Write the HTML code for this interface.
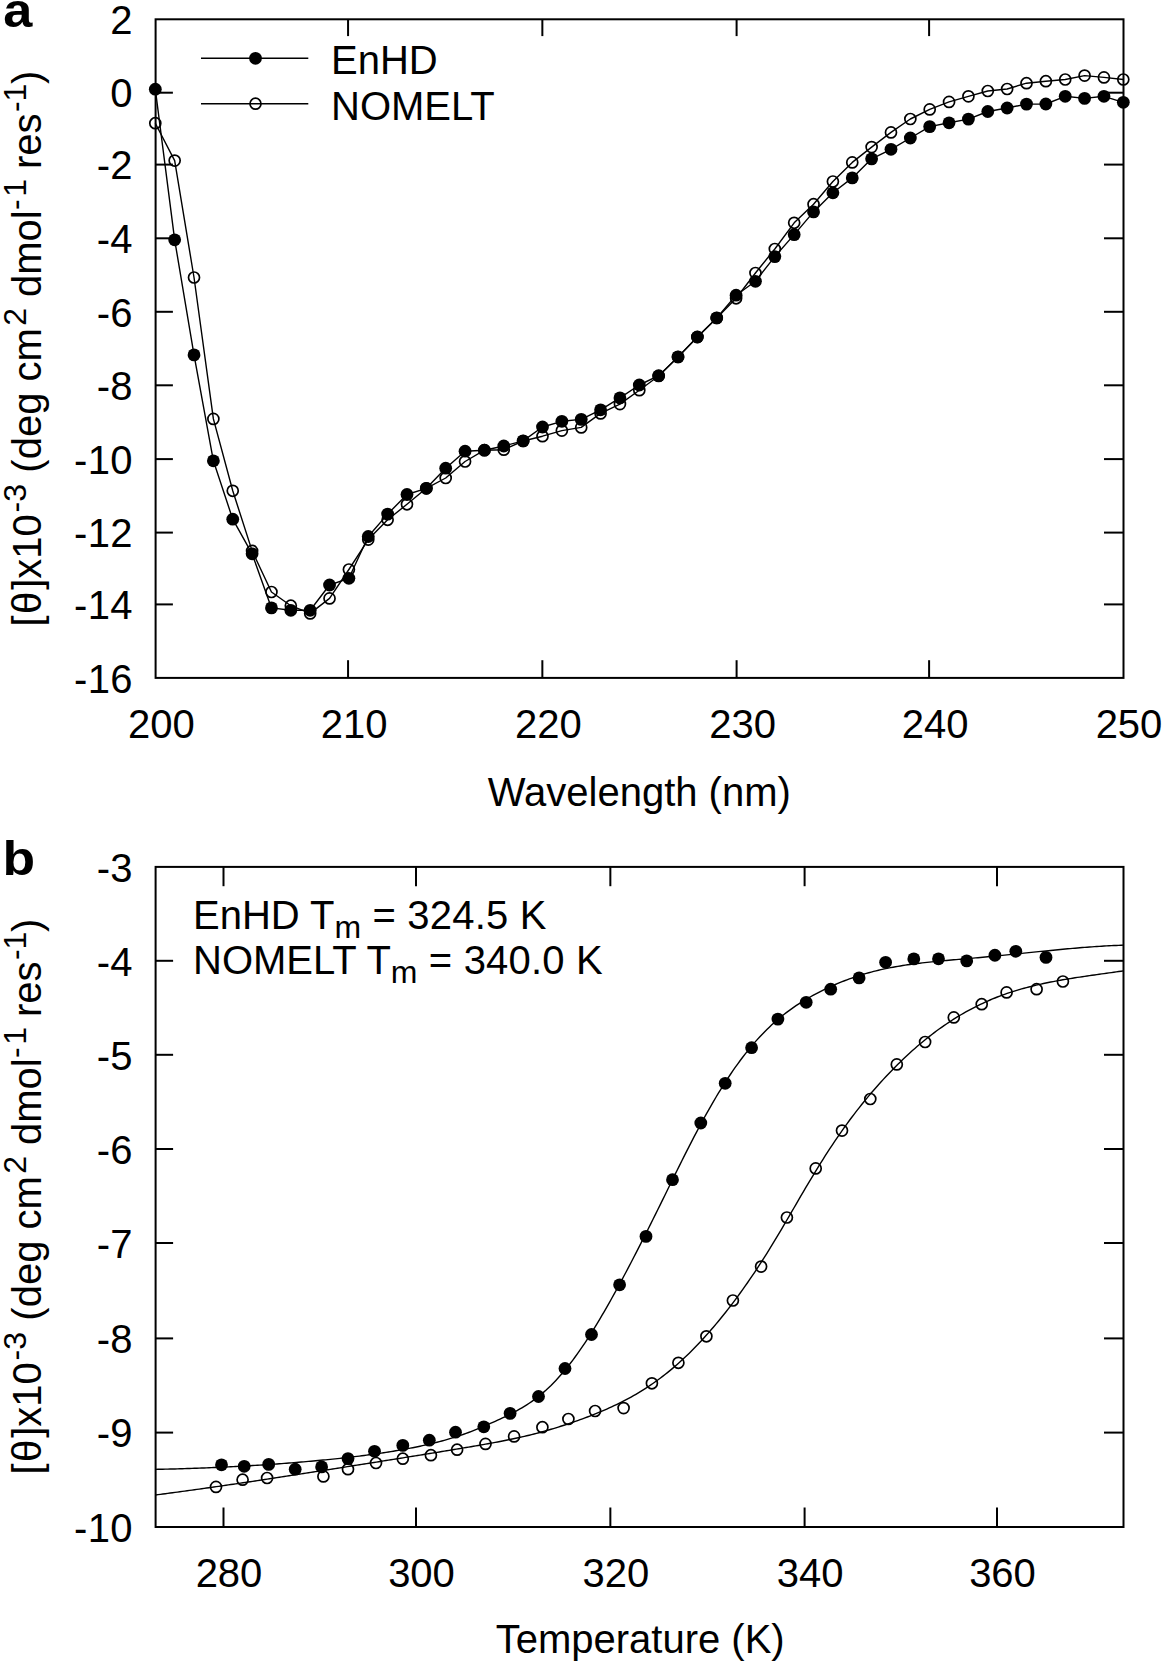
<!DOCTYPE html>
<html><head><meta charset="utf-8"><style>html,body{margin:0;padding:0;background:#fff;width:1163px;height:1664px;overflow:hidden} svg{display:block}</style></head>
<body>
<svg width="1163" height="1664" viewBox="0 0 1163 1664">
<style>text{font-family:"Liberation Sans", sans-serif;font-size:40px;fill:#000;white-space:pre} .t{stroke:#000;stroke-width:2.0;stroke-linecap:butt} .d{fill:none;stroke:#000;stroke-width:1.4;stroke-linejoin:round} .f{fill:#000} .o{fill:none;stroke:#000;stroke-width:1.7}</style>
<rect width="1163" height="1664" fill="#fff"/>
<rect x="155.6" y="19.3" width="967.9" height="658.6" fill="none" stroke="#000" stroke-width="2.0"/>
<line x1="348.06" y1="677.9" x2="348.06" y2="660.1999999999999" class="t"/>
<line x1="348.06" y1="19.3" x2="348.06" y2="36.1" class="t"/>
<line x1="542.35" y1="677.9" x2="542.35" y2="660.1999999999999" class="t"/>
<line x1="542.35" y1="19.3" x2="542.35" y2="36.1" class="t"/>
<line x1="736.6" y1="677.9" x2="736.6" y2="660.1999999999999" class="t"/>
<line x1="736.6" y1="19.3" x2="736.6" y2="36.1" class="t"/>
<line x1="929.1" y1="677.9" x2="929.1" y2="660.1999999999999" class="t"/>
<line x1="929.1" y1="19.3" x2="929.1" y2="36.1" class="t"/>
<line x1="155.6" y1="92.7" x2="172.9" y2="92.7" class="t"/>
<line x1="1123.5" y1="92.7" x2="1104.0" y2="92.7" class="t"/>
<line x1="155.6" y1="164.6" x2="172.9" y2="164.6" class="t"/>
<line x1="1123.5" y1="164.6" x2="1104.0" y2="164.6" class="t"/>
<line x1="155.6" y1="238.3" x2="172.9" y2="238.3" class="t"/>
<line x1="1123.5" y1="238.3" x2="1104.0" y2="238.3" class="t"/>
<line x1="155.6" y1="311.8" x2="172.9" y2="311.8" class="t"/>
<line x1="1123.5" y1="311.8" x2="1104.0" y2="311.8" class="t"/>
<line x1="155.6" y1="385.3" x2="172.9" y2="385.3" class="t"/>
<line x1="1123.5" y1="385.3" x2="1104.0" y2="385.3" class="t"/>
<line x1="155.6" y1="459.1" x2="172.9" y2="459.1" class="t"/>
<line x1="1123.5" y1="459.1" x2="1104.0" y2="459.1" class="t"/>
<line x1="155.6" y1="532.6" x2="172.9" y2="532.6" class="t"/>
<line x1="1123.5" y1="532.6" x2="1104.0" y2="532.6" class="t"/>
<line x1="155.6" y1="604.4" x2="172.9" y2="604.4" class="t"/>
<line x1="1123.5" y1="604.4" x2="1104.0" y2="604.4" class="t"/>
<text x="161.3" y="738" text-anchor="middle">200</text>
<text x="354.1" y="738" text-anchor="middle">210</text>
<text x="548.4" y="738" text-anchor="middle">220</text>
<text x="742.6" y="738" text-anchor="middle">230</text>
<text x="935.1" y="738" text-anchor="middle">240</text>
<text x="1129.0" y="738" text-anchor="middle">250</text>
<text x="132.8" y="34.0" text-anchor="end" letter-spacing="0.3">2</text>
<text x="132.8" y="107.4" text-anchor="end" letter-spacing="0.3">0</text>
<text x="132.8" y="179.3" text-anchor="end" letter-spacing="0.3">-2</text>
<text x="132.8" y="253.0" text-anchor="end" letter-spacing="0.3">-4</text>
<text x="132.8" y="326.5" text-anchor="end" letter-spacing="0.3">-6</text>
<text x="132.8" y="400.0" text-anchor="end" letter-spacing="0.3">-8</text>
<text x="132.8" y="473.8" text-anchor="end" letter-spacing="0.3">-10</text>
<text x="132.8" y="547.3" text-anchor="end" letter-spacing="0.3">-12</text>
<text x="132.8" y="619.1" text-anchor="end" letter-spacing="0.3">-14</text>
<text x="132.8" y="692.6" text-anchor="end" letter-spacing="0.3">-16</text>
<text x="639.3" y="805.8" text-anchor="middle">Wavelength (nm)</text>
<text transform="translate(41,626.50) rotate(-90)" style="font-size:40px">[</text>
<text transform="translate(41,614.10) rotate(-90)" style="font-size:40px">θ</text>
<text transform="translate(41,589.80) rotate(-90)" style="font-size:40px">]x10</text>
<text transform="translate(25.5,512.50) rotate(-90)" style="font-size:32px">-3</text>
<text transform="translate(41,483.76) rotate(-90)" style="font-size:40px"> (deg cm</text>
<text transform="translate(25.5,325.75) rotate(-90)" style="font-size:32px">2</text>
<text transform="translate(41,308.15) rotate(-90)" style="font-size:40px"> dmol</text>
<text transform="translate(25.5,210.10) rotate(-90)" style="font-size:32px">-</text>
<text transform="translate(25.5,196.80) rotate(-90)" style="font-size:32px">1</text>
<text transform="translate(41,180.10) rotate(-90)" style="font-size:40px"> res</text>
<text transform="translate(25.5,112.10) rotate(-90)" style="font-size:32px">-1</text>
<text transform="translate(41,84.10) rotate(-90)" style="font-size:40px">)</text>
<text transform="translate(3.2,27.0) scale(1.09,1)" font-weight="bold" style="font-size:48px">a</text>
<polyline class="d" points="155.30,89.2 174.66,239.8 194.02,354.9 213.38,460.8 232.74,519.2 252.10,553.8 271.46,607.9 290.82,610.3 310.18,610.3 329.54,585.0 348.90,578.3 368.26,536.5 387.62,514.1 406.98,494.5 426.34,488.3 445.70,468.2 465.06,451.2 484.42,450.2 503.78,446.0 523.14,440.9 542.50,427.0 561.86,421.3 581.22,419.4 600.58,409.8 619.94,397.9 639.30,385.0 658.66,375.7 678.02,356.9 697.38,337.0 716.74,317.9 736.10,295.2 755.46,281.3 774.82,256.6 794.18,234.6 813.54,211.9 832.90,192.8 852.26,177.9 871.62,158.85 890.98,149.3 910.34,138.0 929.70,126.6 949.06,122.8 968.42,119.1 987.78,111.5 1007.14,108.0 1026.50,104.1 1045.86,104.0 1065.22,96.3 1084.58,98.4 1103.94,96.3 1123.30,102.3"/>
<circle class="f" cx="155.30" cy="89.2" r="6.4"/>
<circle class="f" cx="174.66" cy="239.8" r="6.4"/>
<circle class="f" cx="194.02" cy="354.9" r="6.4"/>
<circle class="f" cx="213.38" cy="460.8" r="6.4"/>
<circle class="f" cx="232.74" cy="519.2" r="6.4"/>
<circle class="f" cx="252.10" cy="553.8" r="6.4"/>
<circle class="f" cx="271.46" cy="607.9" r="6.4"/>
<circle class="f" cx="290.82" cy="610.3" r="6.4"/>
<circle class="f" cx="310.18" cy="610.3" r="6.4"/>
<circle class="f" cx="329.54" cy="585.0" r="6.4"/>
<circle class="f" cx="348.90" cy="578.3" r="6.4"/>
<circle class="f" cx="368.26" cy="536.5" r="6.4"/>
<circle class="f" cx="387.62" cy="514.1" r="6.4"/>
<circle class="f" cx="406.98" cy="494.5" r="6.4"/>
<circle class="f" cx="426.34" cy="488.3" r="6.4"/>
<circle class="f" cx="445.70" cy="468.2" r="6.4"/>
<circle class="f" cx="465.06" cy="451.2" r="6.4"/>
<circle class="f" cx="484.42" cy="450.2" r="6.4"/>
<circle class="f" cx="503.78" cy="446.0" r="6.4"/>
<circle class="f" cx="523.14" cy="440.9" r="6.4"/>
<circle class="f" cx="542.50" cy="427.0" r="6.4"/>
<circle class="f" cx="561.86" cy="421.3" r="6.4"/>
<circle class="f" cx="581.22" cy="419.4" r="6.4"/>
<circle class="f" cx="600.58" cy="409.8" r="6.4"/>
<circle class="f" cx="619.94" cy="397.9" r="6.4"/>
<circle class="f" cx="639.30" cy="385.0" r="6.4"/>
<circle class="f" cx="658.66" cy="375.7" r="6.4"/>
<circle class="f" cx="678.02" cy="356.9" r="6.4"/>
<circle class="f" cx="697.38" cy="337.0" r="6.4"/>
<circle class="f" cx="716.74" cy="317.9" r="6.4"/>
<circle class="f" cx="736.10" cy="295.2" r="6.4"/>
<circle class="f" cx="755.46" cy="281.3" r="6.4"/>
<circle class="f" cx="774.82" cy="256.6" r="6.4"/>
<circle class="f" cx="794.18" cy="234.6" r="6.4"/>
<circle class="f" cx="813.54" cy="211.9" r="6.4"/>
<circle class="f" cx="832.90" cy="192.8" r="6.4"/>
<circle class="f" cx="852.26" cy="177.9" r="6.4"/>
<circle class="f" cx="871.62" cy="158.85" r="6.4"/>
<circle class="f" cx="890.98" cy="149.3" r="6.4"/>
<circle class="f" cx="910.34" cy="138.0" r="6.4"/>
<circle class="f" cx="929.70" cy="126.6" r="6.4"/>
<circle class="f" cx="949.06" cy="122.8" r="6.4"/>
<circle class="f" cx="968.42" cy="119.1" r="6.4"/>
<circle class="f" cx="987.78" cy="111.5" r="6.4"/>
<circle class="f" cx="1007.14" cy="108.0" r="6.4"/>
<circle class="f" cx="1026.50" cy="104.1" r="6.4"/>
<circle class="f" cx="1045.86" cy="104.0" r="6.4"/>
<circle class="f" cx="1065.22" cy="96.3" r="6.4"/>
<circle class="f" cx="1084.58" cy="98.4" r="6.4"/>
<circle class="f" cx="1103.94" cy="96.3" r="6.4"/>
<circle class="f" cx="1123.30" cy="102.3" r="6.4"/>
<polyline class="d" points="155.30,123.2 174.66,160.6 194.02,277.5 213.38,418.9 232.74,490.8 252.10,550.9 271.46,592.0 290.82,605.7 310.18,613.4 329.54,598.4 348.90,569.5 368.26,539.6 387.62,519.8 406.98,504.3 426.34,488.3 445.70,478.0 465.06,461.5 484.42,450.2 503.78,449.7 523.14,441.0 542.50,436.2 561.86,430.6 581.22,427.4 600.58,413.4 619.94,404.1 639.30,390.2 658.66,376.0 678.02,357.0 697.38,337.0 716.74,318.0 736.10,298.3 755.46,273.0 774.82,249.0 794.18,222.8 813.54,204.2 832.90,181.5 852.26,162.4 871.62,147.1 890.98,132.4 910.34,119.0 929.70,109.4 949.06,101.9 968.42,96.35 987.78,91.0 1007.14,89.0 1026.50,83.2 1045.86,81.2 1065.22,79.5 1084.58,75.6 1103.94,77.4 1123.30,79.5"/>
<circle class="o" cx="155.30" cy="123.2" r="5.5"/>
<circle class="o" cx="174.66" cy="160.6" r="5.5"/>
<circle class="o" cx="194.02" cy="277.5" r="5.5"/>
<circle class="o" cx="213.38" cy="418.9" r="5.5"/>
<circle class="o" cx="232.74" cy="490.8" r="5.5"/>
<circle class="o" cx="252.10" cy="550.9" r="5.5"/>
<circle class="o" cx="271.46" cy="592.0" r="5.5"/>
<circle class="o" cx="290.82" cy="605.7" r="5.5"/>
<circle class="o" cx="310.18" cy="613.4" r="5.5"/>
<circle class="o" cx="329.54" cy="598.4" r="5.5"/>
<circle class="o" cx="348.90" cy="569.5" r="5.5"/>
<circle class="o" cx="368.26" cy="539.6" r="5.5"/>
<circle class="o" cx="387.62" cy="519.8" r="5.5"/>
<circle class="o" cx="406.98" cy="504.3" r="5.5"/>
<circle class="o" cx="426.34" cy="488.3" r="5.5"/>
<circle class="o" cx="445.70" cy="478.0" r="5.5"/>
<circle class="o" cx="465.06" cy="461.5" r="5.5"/>
<circle class="o" cx="484.42" cy="450.2" r="5.5"/>
<circle class="o" cx="503.78" cy="449.7" r="5.5"/>
<circle class="o" cx="523.14" cy="441.0" r="5.5"/>
<circle class="o" cx="542.50" cy="436.2" r="5.5"/>
<circle class="o" cx="561.86" cy="430.6" r="5.5"/>
<circle class="o" cx="581.22" cy="427.4" r="5.5"/>
<circle class="o" cx="600.58" cy="413.4" r="5.5"/>
<circle class="o" cx="619.94" cy="404.1" r="5.5"/>
<circle class="o" cx="639.30" cy="390.2" r="5.5"/>
<circle class="o" cx="658.66" cy="376.0" r="5.5"/>
<circle class="o" cx="678.02" cy="357.0" r="5.5"/>
<circle class="o" cx="697.38" cy="337.0" r="5.5"/>
<circle class="o" cx="716.74" cy="318.0" r="5.5"/>
<circle class="o" cx="736.10" cy="298.3" r="5.5"/>
<circle class="o" cx="755.46" cy="273.0" r="5.5"/>
<circle class="o" cx="774.82" cy="249.0" r="5.5"/>
<circle class="o" cx="794.18" cy="222.8" r="5.5"/>
<circle class="o" cx="813.54" cy="204.2" r="5.5"/>
<circle class="o" cx="832.90" cy="181.5" r="5.5"/>
<circle class="o" cx="852.26" cy="162.4" r="5.5"/>
<circle class="o" cx="871.62" cy="147.1" r="5.5"/>
<circle class="o" cx="890.98" cy="132.4" r="5.5"/>
<circle class="o" cx="910.34" cy="119.0" r="5.5"/>
<circle class="o" cx="929.70" cy="109.4" r="5.5"/>
<circle class="o" cx="949.06" cy="101.9" r="5.5"/>
<circle class="o" cx="968.42" cy="96.35" r="5.5"/>
<circle class="o" cx="987.78" cy="91.0" r="5.5"/>
<circle class="o" cx="1007.14" cy="89.0" r="5.5"/>
<circle class="o" cx="1026.50" cy="83.2" r="5.5"/>
<circle class="o" cx="1045.86" cy="81.2" r="5.5"/>
<circle class="o" cx="1065.22" cy="79.5" r="5.5"/>
<circle class="o" cx="1084.58" cy="75.6" r="5.5"/>
<circle class="o" cx="1103.94" cy="77.4" r="5.5"/>
<circle class="o" cx="1123.30" cy="79.5" r="5.5"/>
<line x1="201" y1="58.3" x2="308.3" y2="58.3" class="d"/>
<circle class="f" cx="255.5" cy="58.3" r="6.4"/>
<text x="331" y="74">EnHD</text>
<line x1="201" y1="103.7" x2="308.3" y2="103.7" class="d"/>
<circle class="o" cx="255.5" cy="103.7" r="5.5"/>
<text x="331" y="119.6">NOMELT</text>
<rect x="155.6" y="866.9" width="967.9" height="660.1" fill="none" stroke="#000" stroke-width="2.0"/>
<line x1="223.5" y1="1527.0" x2="223.5" y2="1507.5" class="t"/>
<line x1="223.5" y1="866.9" x2="223.5" y2="886.1999999999999" class="t"/>
<line x1="416.0" y1="1527.0" x2="416.0" y2="1507.5" class="t"/>
<line x1="416.0" y1="866.9" x2="416.0" y2="886.1999999999999" class="t"/>
<line x1="610.35" y1="1527.0" x2="610.35" y2="1507.5" class="t"/>
<line x1="610.35" y1="866.9" x2="610.35" y2="886.1999999999999" class="t"/>
<line x1="804.6" y1="1527.0" x2="804.6" y2="1507.5" class="t"/>
<line x1="804.6" y1="866.9" x2="804.6" y2="886.1999999999999" class="t"/>
<line x1="997.0" y1="1527.0" x2="997.0" y2="1507.5" class="t"/>
<line x1="997.0" y1="866.9" x2="997.0" y2="886.1999999999999" class="t"/>
<line x1="155.6" y1="960.8" x2="173.1" y2="960.8" class="t"/>
<line x1="1123.5" y1="960.8" x2="1104.0" y2="960.8" class="t"/>
<line x1="155.6" y1="1054.8" x2="173.1" y2="1054.8" class="t"/>
<line x1="1123.5" y1="1054.8" x2="1104.0" y2="1054.8" class="t"/>
<line x1="155.6" y1="1149.0" x2="173.1" y2="1149.0" class="t"/>
<line x1="1123.5" y1="1149.0" x2="1104.0" y2="1149.0" class="t"/>
<line x1="155.6" y1="1243.0" x2="173.1" y2="1243.0" class="t"/>
<line x1="1123.5" y1="1243.0" x2="1104.0" y2="1243.0" class="t"/>
<line x1="155.6" y1="1338.4" x2="173.1" y2="1338.4" class="t"/>
<line x1="1123.5" y1="1338.4" x2="1104.0" y2="1338.4" class="t"/>
<line x1="155.6" y1="1432.6" x2="173.1" y2="1432.6" class="t"/>
<line x1="1123.5" y1="1432.6" x2="1104.0" y2="1432.6" class="t"/>
<text x="229.0" y="1586.5" text-anchor="middle">280</text>
<text x="421.5" y="1586.5" text-anchor="middle">300</text>
<text x="615.9" y="1586.5" text-anchor="middle">320</text>
<text x="810.1" y="1586.5" text-anchor="middle">340</text>
<text x="1002.5" y="1586.5" text-anchor="middle">360</text>
<text x="132.8" y="881.6" text-anchor="end" letter-spacing="0.3">-3</text>
<text x="132.8" y="975.5" text-anchor="end" letter-spacing="0.3">-4</text>
<text x="132.8" y="1069.5" text-anchor="end" letter-spacing="0.3">-5</text>
<text x="132.8" y="1163.7" text-anchor="end" letter-spacing="0.3">-6</text>
<text x="132.8" y="1257.7" text-anchor="end" letter-spacing="0.3">-7</text>
<text x="132.8" y="1353.1" text-anchor="end" letter-spacing="0.3">-8</text>
<text x="132.8" y="1447.3" text-anchor="end" letter-spacing="0.3">-9</text>
<text x="132.8" y="1541.7" text-anchor="end" letter-spacing="0.3">-10</text>
<text x="640.2" y="1653.2" text-anchor="middle">Temperature (K)</text>
<text transform="translate(41,1474.50) rotate(-90)" style="font-size:40px">[</text>
<text transform="translate(41,1462.10) rotate(-90)" style="font-size:40px">θ</text>
<text transform="translate(41,1437.80) rotate(-90)" style="font-size:40px">]x10</text>
<text transform="translate(25.5,1360.50) rotate(-90)" style="font-size:32px">-3</text>
<text transform="translate(41,1331.76) rotate(-90)" style="font-size:40px"> (deg cm</text>
<text transform="translate(25.5,1173.75) rotate(-90)" style="font-size:32px">2</text>
<text transform="translate(41,1156.15) rotate(-90)" style="font-size:40px"> dmol</text>
<text transform="translate(25.5,1058.10) rotate(-90)" style="font-size:32px">-</text>
<text transform="translate(25.5,1044.80) rotate(-90)" style="font-size:32px">1</text>
<text transform="translate(41,1028.10) rotate(-90)" style="font-size:40px"> res</text>
<text transform="translate(25.5,960.10) rotate(-90)" style="font-size:32px">-1</text>
<text transform="translate(41,932.10) rotate(-90)" style="font-size:40px">)</text>
<text transform="translate(2.6,874.6) scale(1.09,1)" font-weight="bold" style="font-size:49px">b</text>
<text x="193" y="929.4">EnHD T<tspan font-size="32" dy="9">m</tspan><tspan dy="-9" letter-spacing="0.2"> = 324.5 K</tspan></text>
<text x="193" y="973.8">NOMELT T<tspan font-size="32" dy="9">m</tspan><tspan dy="-9" letter-spacing="0.2"> = 340.0 K</tspan></text>
<clipPath id="cb"><rect x="155.6" y="866.9" width="967.9" height="660.1"/></clipPath>
<path class="d" clip-path="url(#cb)" d="M155.60,1469.36 L158.03,1469.32 L160.45,1469.27 L162.88,1469.22 L165.30,1469.17 L167.73,1469.11 L170.15,1469.05 L172.58,1468.99 L175.01,1468.93 L177.43,1468.86 L179.86,1468.79 L182.28,1468.72 L184.71,1468.64 L187.14,1468.57 L189.56,1468.49 L191.99,1468.41 L194.41,1468.32 L196.84,1468.24 L199.26,1468.15 L201.69,1468.05 L204.12,1467.96 L206.54,1467.86 L208.97,1467.76 L211.39,1467.66 L213.82,1467.56 L216.25,1467.45 L218.67,1467.34 L221.10,1467.23 L223.52,1467.11 L225.95,1467.00 L228.37,1466.88 L230.80,1466.75 L233.23,1466.63 L235.65,1466.50 L238.08,1466.37 L240.50,1466.24 L242.93,1466.10 L245.36,1465.97 L247.78,1465.83 L250.21,1465.68 L252.63,1465.54 L255.06,1465.39 L257.48,1465.24 L259.91,1465.08 L262.34,1464.93 L264.76,1464.77 L267.19,1464.61 L269.61,1464.44 L272.04,1464.28 L274.46,1464.11 L276.89,1463.93 L279.32,1463.76 L281.74,1463.58 L284.17,1463.40 L286.59,1463.21 L289.02,1463.03 L291.45,1462.84 L293.87,1462.64 L296.30,1462.45 L298.72,1462.25 L301.15,1462.04 L303.57,1461.84 L306.00,1461.63 L308.43,1461.42 L310.85,1461.20 L313.28,1460.98 L315.70,1460.76 L318.13,1460.53 L320.56,1460.30 L322.98,1460.07 L325.41,1459.83 L327.83,1459.59 L330.26,1459.35 L332.68,1459.10 L335.11,1458.85 L337.54,1458.59 L339.96,1458.33 L342.39,1458.06 L344.81,1457.79 L347.24,1457.52 L349.67,1457.24 L352.09,1456.95 L354.52,1456.66 L356.94,1456.37 L359.37,1456.07 L361.79,1455.76 L364.22,1455.45 L366.65,1455.13 L369.07,1454.81 L371.50,1454.48 L373.92,1454.14 L376.35,1453.80 L378.77,1453.45 L381.20,1453.10 L383.63,1452.73 L386.05,1452.36 L388.48,1451.98 L390.90,1451.60 L393.33,1451.20 L395.76,1450.80 L398.18,1450.38 L400.61,1449.96 L403.03,1449.53 L405.46,1449.09 L407.88,1448.63 L410.31,1448.17 L412.74,1447.70 L415.16,1447.21 L417.59,1446.71 L420.01,1446.20 L422.44,1445.68 L424.87,1445.14 L427.29,1444.59 L429.72,1444.03 L432.14,1443.45 L434.57,1442.85 L436.99,1442.24 L439.42,1441.61 L441.85,1440.97 L444.27,1440.30 L446.70,1439.62 L449.12,1438.92 L451.55,1438.19 L453.98,1437.45 L456.40,1436.68 L458.83,1435.90 L461.25,1435.08 L463.68,1434.25 L466.10,1433.39 L468.53,1432.50 L470.96,1431.58 L473.38,1430.64 L475.81,1429.67 L478.23,1428.68 L480.66,1427.67 L483.08,1426.64 L485.51,1425.60 L487.94,1424.53 L490.36,1423.46 L492.79,1422.37 L495.21,1421.27 L497.64,1420.17 L500.07,1419.05 L502.49,1417.92 L504.92,1416.78 L507.34,1415.60 L509.77,1414.40 L512.19,1413.17 L514.62,1411.90 L517.05,1410.59 L519.47,1409.23 L521.90,1407.81 L524.32,1406.34 L526.75,1404.81 L529.18,1403.22 L531.60,1401.56 L534.03,1399.82 L536.45,1398.01 L538.88,1396.13 L541.30,1394.16 L543.73,1392.10 L546.16,1389.96 L548.58,1387.72 L551.01,1385.39 L553.43,1382.96 L555.86,1380.43 L558.29,1377.80 L560.71,1375.08 L563.14,1372.26 L565.56,1369.34 L567.99,1366.34 L570.41,1363.24 L572.84,1360.05 L575.27,1356.77 L577.69,1353.40 L580.12,1349.95 L582.54,1346.42 L584.97,1342.80 L587.39,1339.11 L589.82,1335.34 L592.25,1331.50 L594.67,1327.59 L597.10,1323.62 L599.52,1319.57 L601.95,1315.47 L604.38,1311.32 L606.80,1307.11 L609.23,1302.84 L611.65,1298.53 L614.08,1294.17 L616.50,1289.76 L618.93,1285.31 L621.36,1280.82 L623.78,1276.28 L626.21,1271.71 L628.63,1267.10 L631.06,1262.46 L633.49,1257.80 L635.91,1253.10 L638.34,1248.38 L640.76,1243.63 L643.19,1238.85 L645.61,1234.06 L648.04,1229.24 L650.47,1224.40 L652.89,1219.53 L655.32,1214.65 L657.74,1209.75 L660.17,1204.83 L662.60,1199.89 L665.02,1194.95 L667.45,1190.00 L669.87,1185.05 L672.30,1180.11 L674.72,1175.17 L677.15,1170.26 L679.58,1165.36 L682.00,1160.49 L684.43,1155.65 L686.85,1150.85 L689.28,1146.08 L691.71,1141.36 L694.13,1136.68 L696.56,1132.05 L698.98,1127.48 L701.41,1122.96 L703.83,1118.51 L706.26,1114.12 L708.69,1109.79 L711.11,1105.54 L713.54,1101.36 L715.96,1097.25 L718.39,1093.22 L720.81,1089.26 L723.24,1085.39 L725.67,1081.59 L728.09,1077.87 L730.52,1074.24 L732.94,1070.68 L735.37,1067.21 L737.80,1063.82 L740.22,1060.51 L742.65,1057.28 L745.07,1054.14 L747.50,1051.08 L749.92,1048.10 L752.35,1045.20 L754.78,1042.38 L757.20,1039.64 L759.63,1036.98 L762.05,1034.40 L764.48,1031.90 L766.91,1029.48 L769.33,1027.13 L771.76,1024.85 L774.18,1022.65 L776.61,1020.52 L779.03,1018.45 L781.46,1016.45 L783.89,1014.51 L786.31,1012.63 L788.74,1010.82 L791.16,1009.06 L793.59,1007.35 L796.02,1005.69 L798.44,1004.09 L800.87,1002.54 L803.29,1001.03 L805.72,999.56 L808.14,998.14 L810.57,996.75 L813.00,995.41 L815.42,994.10 L817.85,992.82 L820.27,991.58 L822.70,990.36 L825.12,989.18 L827.55,988.03 L829.98,986.90 L832.40,985.81 L834.83,984.75 L837.25,983.71 L839.68,982.70 L842.11,981.72 L844.53,980.77 L846.96,979.85 L849.38,978.95 L851.81,978.08 L854.23,977.23 L856.66,976.42 L859.09,975.63 L861.51,974.86 L863.94,974.12 L866.36,973.41 L868.79,972.73 L871.22,972.07 L873.64,971.43 L876.07,970.83 L878.49,970.24 L880.92,969.68 L883.34,969.14 L885.77,968.63 L888.20,968.13 L890.62,967.66 L893.05,967.20 L895.47,966.76 L897.90,966.34 L900.33,965.94 L902.75,965.55 L905.18,965.17 L907.60,964.81 L910.03,964.47 L912.45,964.13 L914.88,963.81 L917.31,963.50 L919.73,963.21 L922.16,962.92 L924.58,962.64 L927.01,962.37 L929.43,962.11 L931.86,961.85 L934.29,961.60 L936.71,961.36 L939.14,961.13 L941.56,960.90 L943.99,960.67 L946.42,960.45 L948.84,960.23 L951.27,960.02 L953.69,959.81 L956.12,959.59 L958.54,959.39 L960.97,959.18 L963.40,958.97 L965.82,958.76 L968.25,958.55 L970.67,958.34 L973.10,958.13 L975.53,957.92 L977.95,957.70 L980.38,957.49 L982.80,957.26 L985.23,957.04 L987.65,956.81 L990.08,956.58 L992.51,956.35 L994.93,956.11 L997.36,955.88 L999.78,955.64 L1002.21,955.40 L1004.64,955.15 L1007.06,954.91 L1009.49,954.66 L1011.91,954.42 L1014.34,954.17 L1016.76,953.92 L1019.19,953.67 L1021.62,953.42 L1024.04,953.17 L1026.47,952.92 L1028.89,952.67 L1031.32,952.42 L1033.74,952.17 L1036.17,951.92 L1038.60,951.67 L1041.02,951.42 L1043.45,951.18 L1045.87,950.93 L1048.30,950.69 L1050.73,950.45 L1053.15,950.21 L1055.58,949.97 L1058.00,949.73 L1060.43,949.50 L1062.85,949.27 L1065.28,949.05 L1067.71,948.82 L1070.13,948.61 L1072.56,948.39 L1074.98,948.18 L1077.41,947.97 L1079.84,947.77 L1082.26,947.57 L1084.69,947.38 L1087.11,947.19 L1089.54,947.01 L1091.96,946.84 L1094.39,946.67 L1096.82,946.50 L1099.24,946.34 L1101.67,946.19 L1104.09,946.05 L1106.52,945.91 L1108.95,945.78 L1111.37,945.66 L1113.80,945.54 L1116.22,945.44 L1118.65,945.34 L1121.07,945.25 L1123.50,945.17"/>
<path class="d" clip-path="url(#cb)" d="M155.60,1494.94 L158.03,1494.63 L160.45,1494.32 L162.88,1494.00 L165.30,1493.69 L167.73,1493.37 L170.15,1493.05 L172.58,1492.73 L175.01,1492.40 L177.43,1492.08 L179.86,1491.75 L182.28,1491.42 L184.71,1491.09 L187.14,1490.76 L189.56,1490.43 L191.99,1490.09 L194.41,1489.76 L196.84,1489.42 L199.26,1489.08 L201.69,1488.74 L204.12,1488.40 L206.54,1488.06 L208.97,1487.71 L211.39,1487.37 L213.82,1487.02 L216.25,1486.67 L218.67,1486.32 L221.10,1485.97 L223.52,1485.62 L225.95,1485.27 L228.37,1484.92 L230.80,1484.56 L233.23,1484.21 L235.65,1483.85 L238.08,1483.49 L240.50,1483.13 L242.93,1482.77 L245.36,1482.41 L247.78,1482.05 L250.21,1481.69 L252.63,1481.33 L255.06,1480.96 L257.48,1480.60 L259.91,1480.23 L262.34,1479.87 L264.76,1479.50 L267.19,1479.13 L269.61,1478.76 L272.04,1478.39 L274.46,1478.02 L276.89,1477.65 L279.32,1477.28 L281.74,1476.91 L284.17,1476.53 L286.59,1476.16 L289.02,1475.79 L291.45,1475.41 L293.87,1475.04 L296.30,1474.66 L298.72,1474.29 L301.15,1473.91 L303.57,1473.53 L306.00,1473.15 L308.43,1472.78 L310.85,1472.40 L313.28,1472.02 L315.70,1471.64 L318.13,1471.26 L320.56,1470.88 L322.98,1470.50 L325.41,1470.12 L327.83,1469.74 L330.26,1469.36 L332.68,1468.98 L335.11,1468.60 L337.54,1468.21 L339.96,1467.83 L342.39,1467.45 L344.81,1467.07 L347.24,1466.68 L349.67,1466.30 L352.09,1465.92 L354.52,1465.53 L356.94,1465.15 L359.37,1464.77 L361.79,1464.38 L364.22,1464.00 L366.65,1463.61 L369.07,1463.23 L371.50,1462.84 L373.92,1462.46 L376.35,1462.07 L378.77,1461.69 L381.20,1461.30 L383.63,1460.92 L386.05,1460.53 L388.48,1460.14 L390.90,1459.76 L393.33,1459.37 L395.76,1458.98 L398.18,1458.60 L400.61,1458.21 L403.03,1457.82 L405.46,1457.43 L407.88,1457.04 L410.31,1456.65 L412.74,1456.27 L415.16,1455.88 L417.59,1455.49 L420.01,1455.09 L422.44,1454.70 L424.87,1454.31 L427.29,1453.92 L429.72,1453.53 L432.14,1453.13 L434.57,1452.74 L436.99,1452.34 L439.42,1451.95 L441.85,1451.55 L444.27,1451.15 L446.70,1450.75 L449.12,1450.35 L451.55,1449.95 L453.98,1449.55 L456.40,1449.15 L458.83,1448.74 L461.25,1448.33 L463.68,1447.93 L466.10,1447.52 L468.53,1447.11 L470.96,1446.69 L473.38,1446.28 L475.81,1445.86 L478.23,1445.44 L480.66,1445.02 L483.08,1444.59 L485.51,1444.16 L487.94,1443.73 L490.36,1443.29 L492.79,1442.85 L495.21,1442.40 L497.64,1441.95 L500.07,1441.48 L502.49,1441.01 L504.92,1440.54 L507.34,1440.05 L509.77,1439.56 L512.19,1439.05 L514.62,1438.54 L517.05,1438.01 L519.47,1437.48 L521.90,1436.93 L524.32,1436.37 L526.75,1435.79 L529.18,1435.20 L531.60,1434.60 L534.03,1433.98 L536.45,1433.35 L538.88,1432.70 L541.30,1432.05 L543.73,1431.37 L546.16,1430.69 L548.58,1429.99 L551.01,1429.28 L553.43,1428.55 L555.86,1427.81 L558.29,1427.06 L560.71,1426.29 L563.14,1425.52 L565.56,1424.72 L567.99,1423.92 L570.41,1423.10 L572.84,1422.27 L575.27,1421.43 L577.69,1420.57 L580.12,1419.70 L582.54,1418.82 L584.97,1417.92 L587.39,1417.01 L589.82,1416.08 L592.25,1415.13 L594.67,1414.17 L597.10,1413.19 L599.52,1412.19 L601.95,1411.17 L604.38,1410.13 L606.80,1409.07 L609.23,1407.98 L611.65,1406.87 L614.08,1405.74 L616.50,1404.58 L618.93,1403.39 L621.36,1402.18 L623.78,1400.94 L626.21,1399.67 L628.63,1398.37 L631.06,1397.04 L633.49,1395.67 L635.91,1394.28 L638.34,1392.84 L640.76,1391.38 L643.19,1389.87 L645.61,1388.33 L648.04,1386.75 L650.47,1385.13 L652.89,1383.47 L655.32,1381.77 L657.74,1380.02 L660.17,1378.23 L662.60,1376.40 L665.02,1374.52 L667.45,1372.60 L669.87,1370.62 L672.30,1368.61 L674.72,1366.54 L677.15,1364.43 L679.58,1362.27 L682.00,1360.06 L684.43,1357.80 L686.85,1355.49 L689.28,1353.14 L691.71,1350.74 L694.13,1348.29 L696.56,1345.79 L698.98,1343.25 L701.41,1340.65 L703.83,1338.01 L706.26,1335.33 L708.69,1332.59 L711.11,1329.82 L713.54,1326.99 L715.96,1324.12 L718.39,1321.21 L720.81,1318.25 L723.24,1315.25 L725.67,1312.21 L728.09,1309.12 L730.52,1305.98 L732.94,1302.80 L735.37,1299.58 L737.80,1296.30 L740.22,1292.98 L742.65,1289.61 L745.07,1286.19 L747.50,1282.73 L749.92,1279.21 L752.35,1275.65 L754.78,1272.04 L757.20,1268.38 L759.63,1264.68 L762.05,1260.92 L764.48,1257.12 L766.91,1253.28 L769.33,1249.38 L771.76,1245.45 L774.18,1241.46 L776.61,1237.44 L779.03,1233.37 L781.46,1229.28 L783.89,1225.15 L786.31,1221.00 L788.74,1216.84 L791.16,1212.66 L793.59,1208.49 L796.02,1204.31 L798.44,1200.13 L800.87,1195.97 L803.29,1191.83 L805.72,1187.71 L808.14,1183.62 L810.57,1179.56 L813.00,1175.52 L815.42,1171.53 L817.85,1167.57 L820.27,1163.65 L822.70,1159.77 L825.12,1155.94 L827.55,1152.17 L829.98,1148.44 L832.40,1144.76 L834.83,1141.14 L837.25,1137.57 L839.68,1134.06 L842.11,1130.60 L844.53,1127.19 L846.96,1123.83 L849.38,1120.53 L851.81,1117.28 L854.23,1114.08 L856.66,1110.93 L859.09,1107.83 L861.51,1104.79 L863.94,1101.78 L866.36,1098.83 L868.79,1095.92 L871.22,1093.06 L873.64,1090.25 L876.07,1087.47 L878.49,1084.74 L880.92,1082.04 L883.34,1079.39 L885.77,1076.77 L888.20,1074.19 L890.62,1071.65 L893.05,1069.15 L895.47,1066.69 L897.90,1064.26 L900.33,1061.88 L902.75,1059.53 L905.18,1057.23 L907.60,1054.96 L910.03,1052.73 L912.45,1050.55 L914.88,1048.40 L917.31,1046.29 L919.73,1044.22 L922.16,1042.19 L924.58,1040.20 L927.01,1038.24 L929.43,1036.33 L931.86,1034.45 L934.29,1032.61 L936.71,1030.81 L939.14,1029.04 L941.56,1027.31 L943.99,1025.62 L946.42,1023.96 L948.84,1022.34 L951.27,1020.76 L953.69,1019.21 L956.12,1017.69 L958.54,1016.21 L960.97,1014.77 L963.40,1013.36 L965.82,1011.98 L968.25,1010.64 L970.67,1009.32 L973.10,1008.05 L975.53,1006.80 L977.95,1005.59 L980.38,1004.41 L982.80,1003.26 L985.23,1002.14 L987.65,1001.05 L990.08,1000.00 L992.51,998.97 L994.93,997.98 L997.36,997.01 L999.78,996.08 L1002.21,995.18 L1004.64,994.30 L1007.06,993.46 L1009.49,992.64 L1011.91,991.85 L1014.34,991.08 L1016.76,990.33 L1019.19,989.61 L1021.62,988.92 L1024.04,988.24 L1026.47,987.59 L1028.89,986.95 L1031.32,986.34 L1033.74,985.74 L1036.17,985.17 L1038.60,984.61 L1041.02,984.06 L1043.45,983.54 L1045.87,983.02 L1048.30,982.53 L1050.73,982.04 L1053.15,981.57 L1055.58,981.11 L1058.00,980.66 L1060.43,980.23 L1062.85,979.80 L1065.28,979.39 L1067.71,978.98 L1070.13,978.58 L1072.56,978.19 L1074.98,977.81 L1077.41,977.43 L1079.84,977.07 L1082.26,976.70 L1084.69,976.34 L1087.11,975.99 L1089.54,975.64 L1091.96,975.29 L1094.39,974.95 L1096.82,974.61 L1099.24,974.27 L1101.67,973.93 L1104.09,973.59 L1106.52,973.25 L1108.95,972.91 L1111.37,972.58 L1113.80,972.24 L1116.22,971.89 L1118.65,971.55 L1121.07,971.20 L1123.50,970.86"/>
<circle class="f" cx="221.5" cy="1464.8" r="6.4"/>
<circle class="f" cx="244.2" cy="1466.3" r="6.4"/>
<circle class="f" cx="268.7" cy="1464.4" r="6.4"/>
<circle class="f" cx="295.2" cy="1469.2" r="6.4"/>
<circle class="f" cx="321.6" cy="1466.9" r="6.4"/>
<circle class="f" cx="348.0" cy="1458.6" r="6.4"/>
<circle class="f" cx="374.5" cy="1451.3" r="6.4"/>
<circle class="f" cx="402.8" cy="1445.4" r="6.4"/>
<circle class="f" cx="429.3" cy="1440.2" r="6.4"/>
<circle class="f" cx="455.5" cy="1432.2" r="6.4"/>
<circle class="f" cx="483.8" cy="1426.8" r="6.4"/>
<circle class="f" cx="510.1" cy="1413.4" r="6.4"/>
<circle class="f" cx="538.5" cy="1396.5" r="6.4"/>
<circle class="f" cx="565.0" cy="1368.5" r="6.4"/>
<circle class="f" cx="591.5" cy="1334.5" r="6.4"/>
<circle class="f" cx="619.6" cy="1284.8" r="6.4"/>
<circle class="f" cx="646.0" cy="1236.4" r="6.4"/>
<circle class="f" cx="672.5" cy="1179.7" r="6.4"/>
<circle class="f" cx="700.8" cy="1123.0" r="6.4"/>
<circle class="f" cx="725.2" cy="1083.3" r="6.4"/>
<circle class="f" cx="751.6" cy="1047.7" r="6.4"/>
<circle class="f" cx="777.9" cy="1019.1" r="6.4"/>
<circle class="f" cx="806.2" cy="1002.3" r="6.4"/>
<circle class="f" cx="830.7" cy="989.2" r="6.4"/>
<circle class="f" cx="859.1" cy="977.9" r="6.4"/>
<circle class="f" cx="885.6" cy="962.3" r="6.4"/>
<circle class="f" cx="913.8" cy="958.9" r="6.4"/>
<circle class="f" cx="938.5" cy="958.8" r="6.4"/>
<circle class="f" cx="966.7" cy="960.9" r="6.4"/>
<circle class="f" cx="994.9" cy="955.25" r="6.4"/>
<circle class="f" cx="1015.8" cy="951.3" r="6.4"/>
<circle class="f" cx="1046.0" cy="957.4" r="6.4"/>
<circle class="o" cx="216.0" cy="1486.9" r="5.5"/>
<circle class="o" cx="242.6" cy="1479.7" r="5.5"/>
<circle class="o" cx="267.1" cy="1478.0" r="5.5"/>
<circle class="o" cx="323.4" cy="1476.4" r="5.5"/>
<circle class="o" cx="348.0" cy="1469.2" r="5.5"/>
<circle class="o" cx="376.0" cy="1463.0" r="5.5"/>
<circle class="o" cx="402.8" cy="1458.7" r="5.5"/>
<circle class="o" cx="430.9" cy="1455.2" r="5.5"/>
<circle class="o" cx="457.1" cy="1449.7" r="5.5"/>
<circle class="o" cx="485.5" cy="1443.9" r="5.5"/>
<circle class="o" cx="514.1" cy="1436.4" r="5.5"/>
<circle class="o" cx="542.4" cy="1427.2" r="5.5"/>
<circle class="o" cx="568.4" cy="1419.0" r="5.5"/>
<circle class="o" cx="595.1" cy="1411.0" r="5.5"/>
<circle class="o" cx="623.6" cy="1408.1" r="5.5"/>
<circle class="o" cx="651.9" cy="1383.3" r="5.5"/>
<circle class="o" cx="678.4" cy="1362.8" r="5.5"/>
<circle class="o" cx="706.4" cy="1336.3" r="5.5"/>
<circle class="o" cx="732.9" cy="1300.5" r="5.5"/>
<circle class="o" cx="761.1" cy="1266.6" r="5.5"/>
<circle class="o" cx="786.9" cy="1217.5" r="5.5"/>
<circle class="o" cx="815.7" cy="1168.4" r="5.5"/>
<circle class="o" cx="842.0" cy="1130.6" r="5.5"/>
<circle class="o" cx="870.3" cy="1099.0" r="5.5"/>
<circle class="o" cx="896.8" cy="1064.4" r="5.5"/>
<circle class="o" cx="925.1" cy="1042.0" r="5.5"/>
<circle class="o" cx="953.8" cy="1017.4" r="5.5"/>
<circle class="o" cx="981.7" cy="1004.2" r="5.5"/>
<circle class="o" cx="1006.6" cy="992.4" r="5.5"/>
<circle class="o" cx="1036.6" cy="989.2" r="5.5"/>
<circle class="o" cx="1062.9" cy="981.5" r="5.5"/>
</svg>
</body></html>
